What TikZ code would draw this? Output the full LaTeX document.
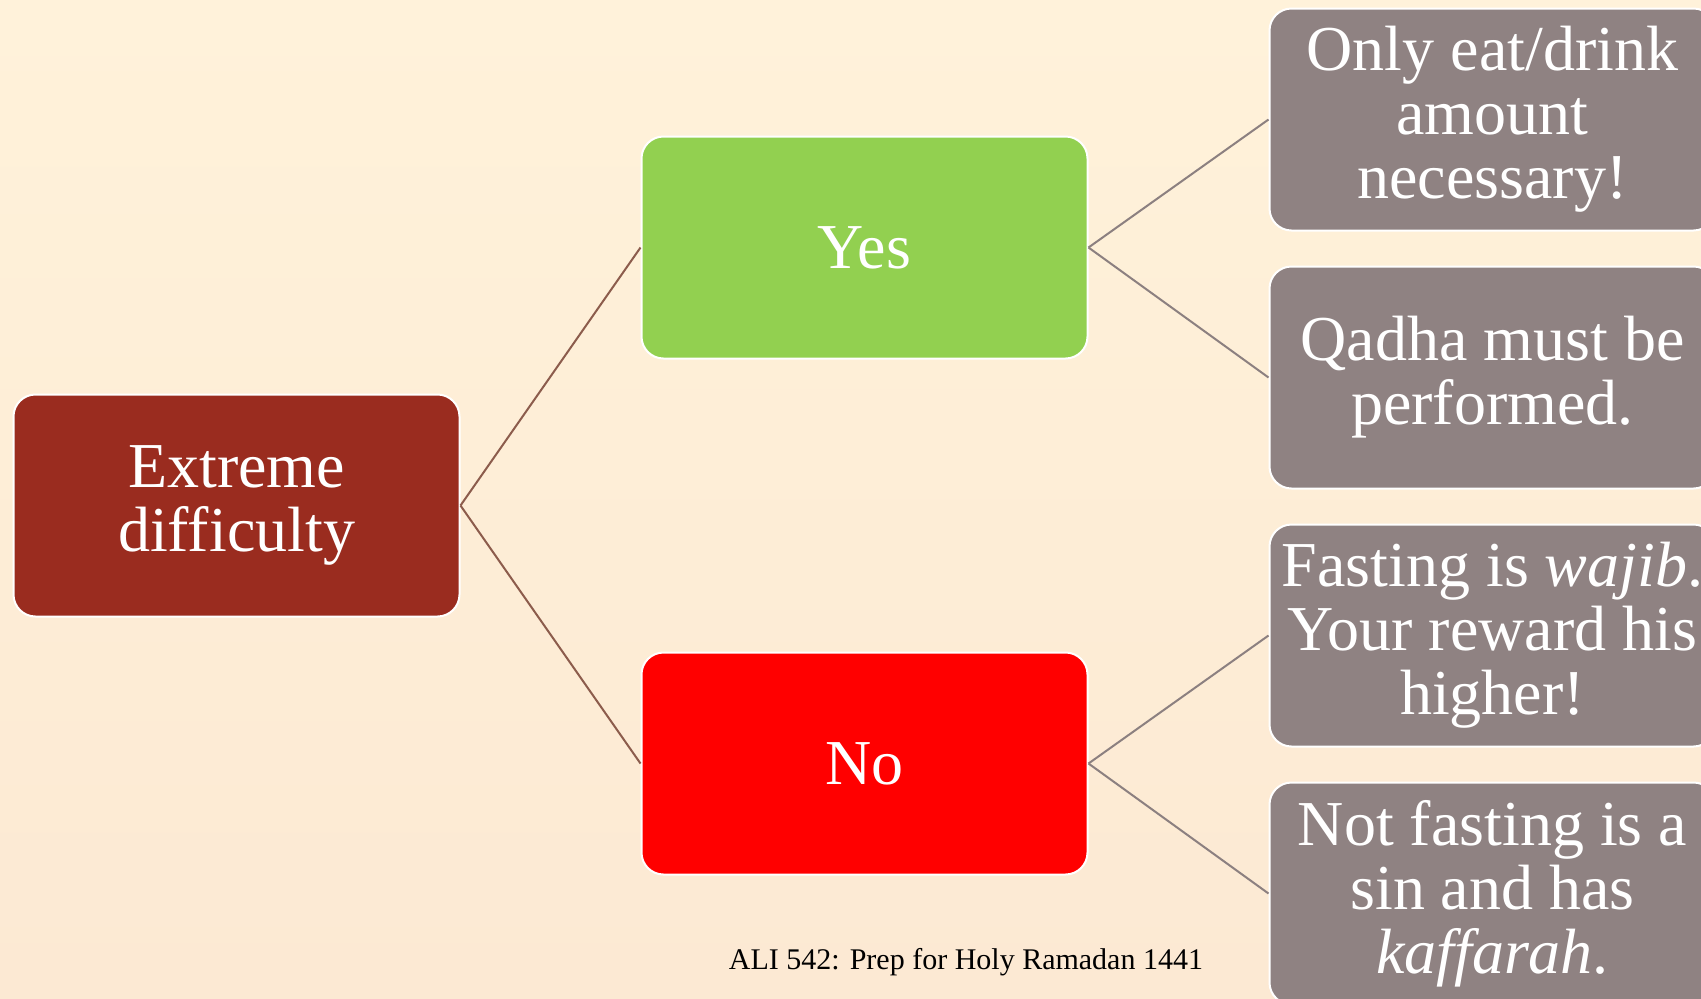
\documentclass[tikz,border=0pt]{standalone}
\usepackage{fontspec}
\setmainfont{Liberation Serif}
\usepackage{tikz}
\usetikzlibrary{positioning}

\definecolor{bgtop}{RGB}{255,242,218}
\definecolor{bgbot}{RGB}{252,233,211}
\definecolor{rootred}{RGB}{154,44,31}
\definecolor{yesgreen}{RGB}{146,208,80}
\definecolor{nored}{RGB}{255,0,0}
\definecolor{leafgrey}{RGB}{143,130,130}
\definecolor{stembrown}{RGB}{140,92,76}
\definecolor{twiggrey}{RGB}{140,128,128}

\begin{document}
\begin{tikzpicture}[
  x=0.5pt, y=-0.5pt,
  node distance=90pt,
  box/.style={draw=white,line width=1pt,rounded corners=11pt,align=center,text=white,
              minimum width=223pt,minimum height=111pt,inner sep=0pt,
              font=\fontsize{32}{32}\selectfont},
  rootbox/.style={box,fill=rootred},
  yesbox/.style={box,fill=yesgreen},
  nobox/.style={box,fill=nored},
  leaf/.style={box,fill=leafgrey},
  stem/.style={draw=stembrown,line width=1pt},
  twig/.style={draw=twiggrey,line width=1pt}
]
  \useasboundingbox (0,0) rectangle (1701,998);
  \clip (0,0) rectangle (1701,998);
  \shade[top color=bgtop,bottom color=bgbot] (0,0) rectangle (1701,998);

  \node[rootbox] (root) at (236.5,505.5) {Extreme\\difficulty};
  \node[yesbox,right=of root,yshift=129pt] (yes) {Yes};
  \node[nobox,right=of root,yshift=-129pt] (no) {No};

  \node[leaf,right=of yes,yshift=64pt] (eat) {Only eat/drink\\amount\\necessary!};
  \node[leaf,right=of yes,yshift=-65pt] (qadha) {Qadha must be\\performed.};
  \node[leaf,right=of no,yshift=64pt] (wajib) {Fasting is \textit{wajib}.\\Your reward his\\higher!};
  \node[leaf,right=of no,yshift=-65pt] (sin) {Not fasting is a\\sin and has\\\textit{kaffarah}.};

  \draw[stem] (root.east) -- (yes.west);
  \draw[stem] (root.east) -- (no.west);
  \draw[twig] (yes.east) -- (eat.west);
  \draw[twig] (yes.east) -- (qadha.west);
  \draw[twig] (no.east) -- (wajib.west);
  \draw[twig] (no.east) -- (sin.west);

  \node[font=\fontsize{15}{18}\selectfont] (foot) at (966,962) {ALI 542: Prep for Holy Ramadan 1441};
\end{tikzpicture}
\end{document}
